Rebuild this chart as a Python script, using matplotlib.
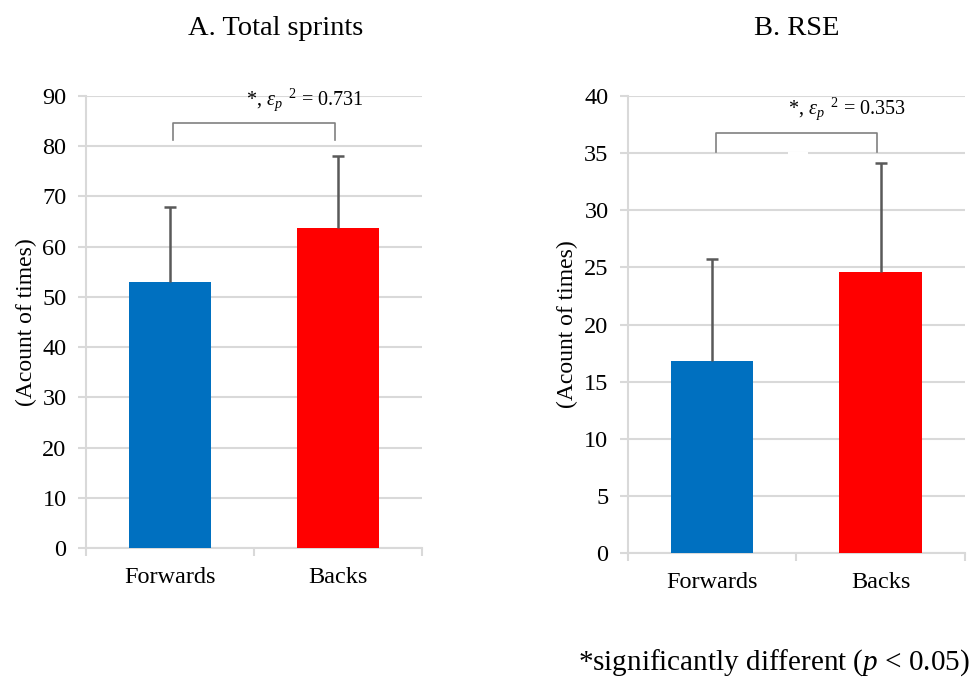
import matplotlib
matplotlib.use("Agg")
import matplotlib.pyplot as plt
from matplotlib.patches import Rectangle

plt.rcParams['font.family'] = ['Liberation Serif', 'DejaVu Serif']
plt.rcParams['mathtext.fontset'] = 'custom'
plt.rcParams['mathtext.rm'] = 'Liberation Serif'
plt.rcParams['mathtext.it'] = 'Liberation Serif:italic'

groups = ["Forwards", "Backs"]
colors = ["#0070C0", "#FF0000"]

sprint_mean = [53.0, 63.8]
sprint_sd = [15.0, 14.2]

rse_mean = [16.8, 24.6]
rse_sd = [8.9, 9.5]

panels = [
    dict(title="A. Total sprints", mean=sprint_mean, sd=sprint_sd,
         ymax=90, step=10, effect="0.731",
         rect=[0.0885, 0.1988, 0.3457, 0.6608], title_x=0.565,
         bracket=(81.3, 84.7), label_y=89.3, gap=None),
    dict(title="B. RSE", mean=rse_mean, sd=rse_sd,
         ymax=40, step=5, effect="0.353",
         rect=[0.646, 0.1915, 0.3467, 0.668], title_x=0.5,
         bracket=(35.1, 36.8), label_y=38.9, gap=35),
]

grid_col = "#D9D9D9"
err_col = "#595959"

fig = plt.figure(figsize=(9.72, 6.84), dpi=100)

for p in panels:
    ax = fig.add_axes(p["rect"])
    x = [0, 1]
    ax.bar(x, p["mean"], width=0.49, color=colors, zorder=3)

    # upper-only error bars with a cap at the top
    tops = [m + s for m, s in zip(p["mean"], p["sd"])]
    ax.vlines(x, p["mean"], tops, color=err_col, linewidth=1.8, zorder=4)
    ax.hlines(tops, [xi - 0.036 for xi in x], [xi + 0.036 for xi in x],
              color=err_col, linewidth=1.8, zorder=4)

    ax.set_xlim(-0.5, 1.5)
    ax.set_ylim(0, p["ymax"])
    ax.set_yticks(range(0, p["ymax"] + 1, p["step"]))
    ax.yaxis.grid(True, color=grid_col, linewidth=1.5, zorder=0)
    ax.set_axisbelow(True)

    # category labels on major ticks, boundary marks on minor ticks
    ax.set_xticks(x)
    ax.set_xticklabels(groups)
    ax.set_xticks([-0.5, 0.5, 1.5], minor=True)
    ax.tick_params(axis="x", which="major", length=0, pad=14, labelsize=17.5)
    ax.tick_params(axis="x", which="minor", length=6, width=1.5, color=grid_col)
    ax.tick_params(axis="y", length=6, width=1.5, color=grid_col, pad=8, labelsize=17.5)

    for side in ["top", "right"]:
        ax.spines[side].set_visible(False)
    for side in ["left", "bottom"]:
        ax.spines[side].set_color(grid_col)
        ax.spines[side].set_linewidth(1.5)

    ax.set_ylabel("(Acount of times)", fontsize=17, labelpad=4)
    ax.set_title(p["title"], fontsize=20.5, pad=44, x=p["title_x"])

    if p["gap"] is not None:
        ax.add_patch(Rectangle((0.45, p["gap"] - 0.15), 0.12, 0.3,
                               facecolor="white", edgecolor="none", zorder=1))

    # significance bracket between the two bars
    lo, hi = p["bracket"]
    ax.plot([0.02, 0.02, 0.98, 0.98], [lo, hi, hi, lo], color="#808080",
            linewidth=1.2, clip_on=False, zorder=5)
    ax.text(0.8, p["label_y"], r"*, $\varepsilon_p{}^{\ \ 2}$ = " + p["effect"],
            ha="center", va="center", fontsize=14.5, clip_on=False)

fig.text(0.998, 1 - 663 / 684, r"*significantly different ($p$ < 0.05)",
         ha="right", va="center", fontsize=21)

fig.savefig("out.png", dpi=100)
